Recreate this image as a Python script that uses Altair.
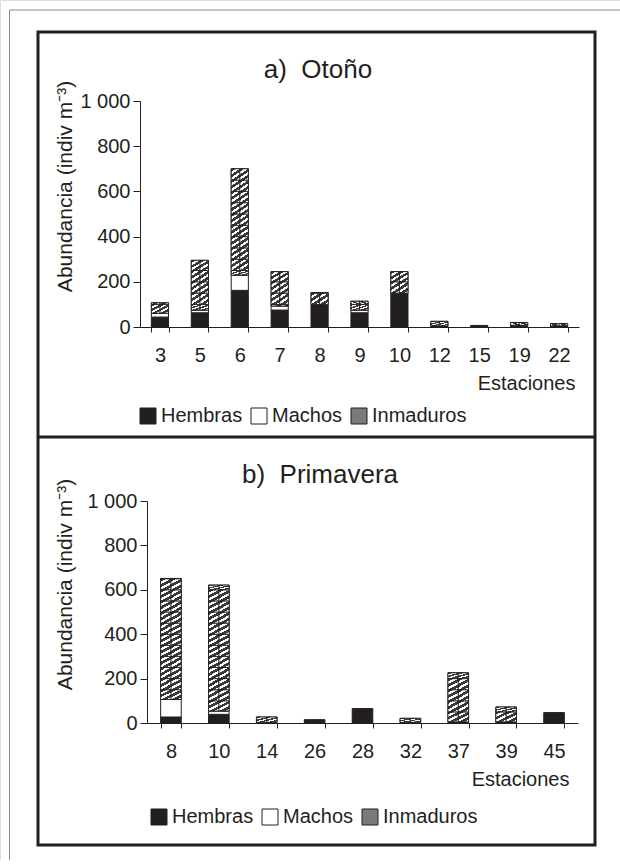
import altair as alt
import pandas as pd

# ---- Datos: abundancia por estación (indiv m^-3) ----
otono_estaciones = ["3", "5", "6", "7", "8", "9", "10", "12", "15", "19", "22"]
otono_hembras = [44, 63, 162, 75, 95, 63, 150, 5, 7, 8, 5]
otono_machos = [17, 12, 67, 18, 3, 12, 0, 0, 0, 0, 0]
otono_inmaduros = [46, 220, 471, 152, 54, 39, 95, 20, 0, 12, 10]

primavera_estaciones = ["8", "10", "14", "26", "28", "32", "37", "39", "45"]
primavera_hembras = [27, 39, 3, 15, 65, 3, 5, 5, 47]
primavera_machos = [79, 15, 0, 0, 0, 0, 0, 0, 0]
primavera_inmaduros = [545, 567, 24, 0, 0, 18, 221, 67, 0]

categorias = ["Hembras", "Machos", "Inmaduros"]
ticks_y = [0, 200, 400, 600, 800, 1000]

INK = "#231f20"
FONT = "Liberation Sans"
ANCHO, ALTO = 620, 860


def apilado(est, hem, mac, inm):
    """Segments of each stacked bar, bottom to top."""
    filas = []
    for e, h, m, i in zip(est, hem, mac, inm):
        base = 0
        for cat, v in zip(categorias, (h, m, i)):
            if v > 0:
                filas.append({"estacion": e, "categoria": cat, "y0": base, "y1": base + v})
            base += v
    return pd.DataFrame(filas)


def celdas(est, hem, mac, inm, paso=50):
    """Inmaduros segment cut into pattern cells every `paso` units."""
    filas = []
    for e, h, m, i in zip(est, hem, mac, inm):
        lo, hi = h + m, h + m + i
        corte = lo
        while corte < hi:
            sig = min(hi, (corte // paso + 1) * paso)
            filas.append({"estacion": e, "y0": corte, "y1": sig})
            corte = sig
    return pd.DataFrame(filas)


def rayado(n=4, oscuro="#3a3a3a", claro="#ffffff", lleno=0.55):
    stops = []
    for k in range(n):
        a, b, c = k / n, (k + lleno) / n, (k + 1) / n
        stops += [
            alt.GradientStop(color=oscuro, offset=a),
            alt.GradientStop(color=oscuro, offset=b),
            alt.GradientStop(color=claro, offset=b),
            alt.GradientStop(color=claro, offset=c),
        ]
    return alt.LinearGradient(gradient="linear", stops=stops, x1=0, y1=0, x2=1, y2=1)


def panel(est, hem, mac, inm, x_rango, y_rango, eje_x_en, y_off,
          ytit_x, ytit_y, xtit_x, leg_x, leg_y):
    segs = apilado(est, hem, mac, inm)
    cel = celdas(est, hem, mac, inm)
    inmad = segs[segs["categoria"] == "Inmaduros"]

    x_enc = alt.X(
        "estacion:N",
        sort=est,
        scale=alt.Scale(domain=est, range=x_rango, paddingInner=0.57, paddingOuter=0.285),
        axis=alt.Axis(
            orient="bottom", offset=eje_x_en - ALTO, title="Estaciones", labelAngle=0,
            tickBand="extent", tickSize=5, labelPadding=13,
            labelFontSize=20, labelFont=FONT, labelColor=INK,
            titleFontSize=20, titleFont=FONT, titleColor=INK, titleFontWeight="normal",
            titleX=xtit_x, titleY=56, titleAlign="right", titleBaseline="middle",
            domainColor=INK, tickColor=INK, grid=False,
        ),
    )
    y_enc = alt.Y(
        "y0:Q",
        scale=alt.Scale(domain=[0, 1000], range=y_rango, nice=False),
        axis=alt.Axis(
            orient="left", offset=y_off, values=ticks_y,
            labelExpr="datum.value == 1000 ? '1 000' : datum.label",
            title="Abundancia (indiv m⁻³)",
            tickSize=7, labelPadding=3,
            labelFontSize=20, labelFont=FONT, labelColor=INK,
            titleFontSize=21, titleFont=FONT, titleColor=INK, titleFontWeight="normal",
            titleX=ytit_x, titleY=ytit_y, titleAngle=-90,
            titleAlign="center", titleBaseline="middle",
            domainColor=INK, tickColor=INK, grid=False,
        ),
    )

    barras = alt.Chart(segs).mark_bar(stroke=INK, strokeWidth=1).encode(
        x=x_enc,
        y=y_enc,
        y2="y1:Q",
        fill=alt.Fill(
            "categoria:N",
            scale=alt.Scale(domain=categorias, range=[INK, "#ffffff", "#7a7a7a"]),
            legend=alt.Legend(
                orient="none", legendX=leg_x, legendY=leg_y, direction="horizontal",
                title=None, symbolType="square", symbolSize=256,
                symbolStrokeColor=INK, symbolStrokeWidth=1, symbolOpacity=1,
                labelFont=FONT, labelFontSize=20, labelColor=INK,
                labelOffset=3, columnPadding=6, padding=0,
            ),
        ),
    )
    trama = alt.Chart(cel).mark_bar(fill=rayado(), stroke=INK, strokeWidth=0.9).encode(
        x=x_enc, y=y_enc, y2="y1:Q"
    )
    eje_medio = alt.Chart(inmad).mark_rule(color=INK, strokeWidth=1.2, opacity=0.9).encode(
        x=x_enc, y=y_enc, y2="y1:Q"
    )
    return alt.layer(barras, trama, eje_medio)


panel_a = panel(otono_estaciones, otono_hembras, otono_machos, otono_inmaduros,
                x_rango=[140, 579], y_rango=[327, 101], eje_x_en=327, y_off=-140,
                ytit_x=-75, ytit_y=186, xtit_x=575, leg_x=138, leg_y=406)
panel_b = panel(primavera_estaciones, primavera_hembras, primavera_machos, primavera_inmaduros,
                x_rango=[147, 578], y_rango=[723, 501], eje_x_en=723, y_off=-147,
                ytit_x=-82, ytit_y=584, xtit_x=569, leg_x=149, leg_y=807)

uno = pd.DataFrame({"k": [0]})

# Marco: línea fina exterior, recuadro grueso y separador entre paneles
linea_v = alt.Chart(uno).mark_rule(color="#8a8a8a", strokeWidth=1).encode(
    x=alt.value(9.5), y=alt.value(10), y2=alt.value(ALTO))
linea_h = alt.Chart(uno).mark_rule(color="#8a8a8a", strokeWidth=1).encode(
    x=alt.value(9.5), x2=alt.value(ANCHO), y=alt.value(10))
recuadro = alt.Chart(uno).mark_rect(fillOpacity=0, stroke=INK, strokeWidth=3).encode(
    x=alt.value(38), x2=alt.value(595), y=alt.value(32), y2=alt.value(845))
separador = alt.Chart(uno).mark_rule(color=INK, strokeWidth=3).encode(
    x=alt.value(38), x2=alt.value(595), y=alt.value(437))

titulo_a = alt.Chart(pd.DataFrame({"t": ["a)\u00a0\u00a0Otoño"]})).mark_text(
    font=FONT, fontSize=26, color=INK, align="center", baseline="middle"
).encode(text="t:N", x=alt.value(318), y=alt.value(70))
titulo_b = alt.Chart(pd.DataFrame({"t": ["b)\u00a0\u00a0Primavera"]})).mark_text(
    font=FONT, fontSize=26, color=INK, align="center", baseline="middle"
).encode(text="t:N", x=alt.value(320), y=alt.value(475))

chart = (
    alt.layer(linea_v, linea_h, recuadro, separador, panel_a, panel_b, titulo_a, titulo_b)
    .resolve_scale(x="independent", y="independent", fill="independent")
    .properties(width=ANCHO, height=ALTO, padding=0,
                autosize=alt.AutoSizeParams(type="none"), background="white")
    .configure_view(stroke="transparent", strokeWidth=0)
    .configure(font=FONT)
)

chart.save("out.html", embed_options={"renderer": "svg", "actions": False})
